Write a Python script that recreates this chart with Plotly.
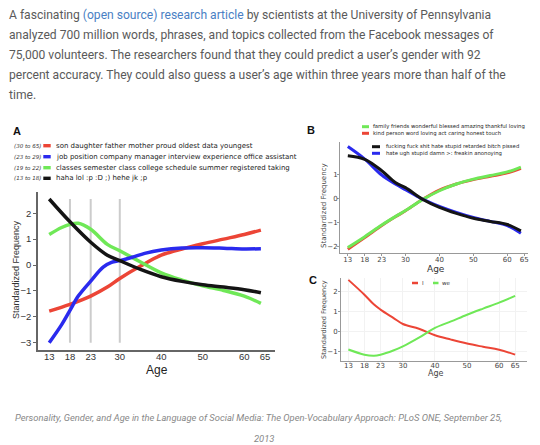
import plotly.graph_objects as go

W, H = 540, 445
def px(x): return x / W
def py(y): return 1 - y / H

# ---------------- data ----------------
RED, BLUE, GREEN, BLACK = "#ec4536", "#2a2aee", "#6fe857", "#141414"

# Panel A
ages_a_black = [13, 18, 23, 27, 30, 35, 40, 45, 50, 55, 60, 64]
freq_a_black = [2.55, 1.67, 0.88, 0.38, 0.17, -0.17, -0.45, -0.63, -0.76, -0.85, -0.95, -1.07]
ages_a_green = [13, 16, 18, 20, 23, 27, 30, 35, 40, 45, 50, 55, 60, 64]
freq_a_green = [1.18, 1.45, 1.57, 1.61, 1.38, 0.8, 0.55, 0.12, -0.3, -0.58, -0.8, -0.98, -1.2, -1.48]
ages_a_blue = [13, 16, 18, 20, 23, 26, 28, 30, 33, 36, 40, 45, 50, 55, 60, 64]
freq_a_blue = [-3.0, -2.3, -1.75, -1.2, -0.62, -0.08, 0.1, 0.17, 0.3, 0.45, 0.58, 0.66, 0.67, 0.65, 0.62, 0.63]
ages_a_red = [13, 18, 23, 27, 30, 35, 40, 45, 50, 55, 60, 64]
freq_a_red = [-1.78, -1.52, -1.2, -0.85, -0.52, -0.04, 0.38, 0.62, 0.82, 1.0, 1.18, 1.35]
age_breaks = [18, 23, 30]
break_span = [-3.0, 2.55]
legend_a_ranges = ["(30 to 65)", "(23 to 29)", "(19 to 22)", "(13 to 18)"]
legend_a_words = [
    "son daughter father mother proud oldest data youngest",
    "job position company manager interview experience office assistant",
    "classes semester class college schedule summer registered taking",
    "haha lol :p :D ;) hehe jk ;p",
]

# Panel B
ages_b = [13, 18, 23, 27, 30, 35, 40, 45, 50, 55, 60, 64]
freq_b_black = [1.77, 1.62, 1.15, 0.66, 0.45, -0.03, -0.37, -0.62, -0.82, -0.95, -1.08, -1.34]
freq_b_blue = [2.15, 1.63, 0.97, 0.6, 0.36, -0.03, -0.33, -0.58, -0.79, -0.95, -1.12, -1.44]
freq_b_green = [-2.03, -1.58, -1.1, -0.75, -0.5, -0.05, 0.32, 0.6, 0.8, 0.95, 1.1, 1.3]
freq_b_red = [-2.1, -1.62, -1.12, -0.76, -0.51, -0.04, 0.35, 0.6, 0.78, 0.92, 1.06, 1.25]
legend_b_words = [
    "family friends wonderful blessed amazing thankful loving",
    "kind person word loving act caring honest touch",
    "fucking fuck shit hate stupid retarded bitch pissed",
    "hate ugh stupid damn >: freakin anonoying",
]

# Panel C
ages_c = [13, 18, 21, 23, 27, 30, 35, 40, 45, 50, 55, 60, 65]
freq_c_i = [2.6, 1.85, 1.35, 1.1, 0.68, 0.37, 0.13, -0.2, -0.42, -0.62, -0.78, -0.93, -1.18]
freq_c_we = [-0.92, -1.18, -1.23, -1.18, -0.97, -0.76, -0.32, 0.17, 0.5, 0.84, 1.15, 1.45, 1.79]

age_ticks = [13, 18, 23, 30, 40, 50, 60, 65]

paragraph = [
    "A fascinating <span style='color:#4a7fc4'>(open source) research article</span> by scientists at the University of Pennsylvania",
    "analyzed 700 million words, phrases, and topics collected from the Facebook messages of",
    "75,000 volunteers. The researchers found that they could predict a user\u2019s gender with 92",
    "percent accuracy. They could also guess a user\u2019s age within three years more than half of the",
    "time.",
]
caption = [
    "Personality, Gender, and Age in the Language of Social Media: The Open-Vocabulary Approach: PLoS ONE, September 25,",
    "2013",
]

# ---------------- figure ----------------
fig = go.Figure()

def line(x, y, color, width, xa, ya, shape="spline"):
    fig.add_trace(go.Scatter(x=x, y=y, mode="lines", line=dict(color=color, width=width, shape=shape, smoothing=1.0),
                             xaxis=xa, yaxis=ya, showlegend=False, hoverinfo="skip"))

# Panel A
for b in age_breaks:
    line([b, b], break_span, "#cccccc", 2, "x", "y", shape="linear")
line(ages_a_red, freq_a_red, RED, 3.5, "x", "y")
line(ages_a_green, freq_a_green, GREEN, 3.5, "x", "y")
line(ages_a_blue, freq_a_blue, BLUE, 3.5, "x", "y")
line(ages_a_black, freq_a_black, BLACK, 3.5, "x", "y")

# Panel B
line(ages_b, freq_b_red, RED, 3, "x2", "y2")
line(ages_b, freq_b_green, GREEN, 3, "x2", "y2")
line(ages_b, freq_b_blue, BLUE, 3, "x2", "y2")
line(ages_b, freq_b_black, BLACK, 3, "x2", "y2")

# Panel C
line(ages_c, freq_c_i, RED, 2, "x3", "y3")
line(ages_c, freq_c_we, GREEN, 2, "x3", "y3")

tickfont_a = dict(family="Liberation Sans", size=9.5, color="#333")
tickfont_b = dict(family="DejaVu Sans", size=7, color="#444")
fig.update_layout(
    width=W, height=H, margin=dict(l=0, r=0, t=0, b=0),
    paper_bgcolor="white", plot_bgcolor="white", showlegend=False,
    xaxis=dict(domain=[px(38), px(275)], range=[10.3, 67.4], tickvals=age_ticks, tickfont=tickfont_a,
               showline=True, linecolor="#666", linewidth=1.5, ticks="",
               showgrid=False, zeroline=False, anchor="y", ticklabelstandoff=-3),
    yaxis=dict(domain=[py(350), py(192)], range=[-3.28, 2.82], tickvals=[-3, -2, -1, 0, 1, 2], tickfont=tickfont_a,
               showline=True, linecolor="#666", linewidth=1.5, ticks="outside", ticklen=3, tickcolor="#666",
               showgrid=False, zeroline=False, anchor="x"),
    xaxis2=dict(domain=[px(340), px(528)], range=[10.7, 66.1], tickvals=age_ticks, tickfont=tickfont_b,
                showline=True, linecolor="#999", linewidth=1, ticks="outside", ticklen=2, tickcolor="#999",
                showgrid=False, zeroline=False, anchor="y2", ticklabelstandoff=-3),
    yaxis2=dict(domain=[py(253.3), py(141.7)], range=[-2.27, 2.35], tickvals=[-2, -1, 0, 1], tickfont=tickfont_b,
                showline=True, linecolor="#999", linewidth=1, ticks="outside", ticklen=2, tickcolor="#999",
                showgrid=False, zeroline=False, anchor="x2", ticklabelstandoff=-2),
    xaxis3=dict(domain=[px(341), px(526.7)], range=[10.7, 68.6], tickvals=age_ticks, tickfont=tickfont_b,
                showline=True, linecolor="#999", linewidth=1, ticks="",
                showgrid=True, gridcolor="#f2f2f2", zeroline=False, anchor="y3", ticklabelstandoff=-2),
    yaxis3=dict(domain=[py(361), py(277.7)], range=[-1.5, 2.71], tickvals=[-1, 0, 1, 2], tickfont=tickfont_b,
                showline=True, linecolor="#999", linewidth=1, ticks="outside", ticklen=2, tickcolor="#999",
                showgrid=True, gridcolor="#f2f2f2", zeroline=False, anchor="x3", ticklabelstandoff=-1),
)

ann = []
def text(x, y, s, size, color="#333", family="DejaVu Sans", xanchor="left", angle=0, style="normal", weight="normal"):
    ann.append(dict(x=px(x), y=py(y), xref="paper", yref="paper", text=s, showarrow=False,
                    xanchor=xanchor, yanchor="middle", textangle=angle,
                    font=dict(size=size, color=color, family=family, style=style, weight=weight)))

# Paragraph
for i, s in enumerate(paragraph):
    text(7, 15 + 20 * i, s, 12.1, color="#5a5a5a", family="Roboto")
# Caption
caption_x = [258, 264]
for i, s in enumerate(caption):
    text(caption_x[i], 417 + 21 * i, s, 9.4, color="#888", family="Roboto", xanchor="center", style="italic")

# Panel labels
text(11, 130.5, "A", 11, color="#111", family="Liberation Sans", weight="bold")
text(305, 130, "B", 11, color="#111", family="Liberation Sans", weight="bold")
text(307, 280, "C", 11, color="#111", family="Liberation Sans", weight="bold")

# Axis titles
text(157, 370, "Age", 12, color="#222", family="Liberation Sans", xanchor="center")
text(16, 270, "Standardized Frequency", 9, color="#333", family="Liberation Sans", xanchor="center", angle=-90)
text(435.7, 268.5, "Age", 9, color="#333", xanchor="center")
text(324, 206, "Standardized Frequency", 7, color="#444", xanchor="center", angle=-90)
text(435.7, 373.5, "Age", 8, color="#444", xanchor="center")
text(324, 320, "Standardized Frequency", 6.5, color="#444", xanchor="center", angle=-90)

shapes = []
def swatch(x0, x1, yc, color, h=3.6):
    shapes.append(dict(type="rect", xref="paper", yref="paper", x0=px(x0), x1=px(x1),
                       y0=py(yc + h / 2), y1=py(yc - h / 2), fillcolor=color, line=dict(width=0)))

# Legend A
rows_a = [145.7, 156.7, 167.7, 178.3]
colors_a = [RED, BLUE, GREEN, BLACK]
for yy, rng, col, words in zip(rows_a, legend_a_ranges, colors_a, legend_a_words):
    text(12, yy, rng, 5.5, color="#333", style="italic")
    swatch(43.3, 50.7, yy, col, 3.4)
    text(54, yy, words, 7, color="#222")

# Legend B
swatch(362, 369, 126.7, GREEN, 3)
text(371, 126.7, legend_b_words[0], 5.3, color="#222")
swatch(362, 369, 133.3, RED, 3)
text(371, 133.3, legend_b_words[1], 5.3, color="#222")
swatch(372, 380, 146.7, BLACK, 3)
text(383.5, 146.7, legend_b_words[2], 5.3, color="#222")
swatch(372, 380, 153.3, BLUE, 3)
text(383.5, 153.3, legend_b_words[3], 5.3, color="#222")

# Legend C
swatch(412, 418, 283, RED, 2.5)
text(419.5, 283, "I", 5.5, color="#333")
swatch(433, 438.5, 283, GREEN, 2.5)
text(440, 283, "we", 5.5, color="#333")

fig.update_layout(annotations=ann, shapes=shapes)
fig.write_html("out.html", config={"displayModeBar": False},
               post_script="document.body.style.margin='0';document.body.style.overflow='hidden';")
